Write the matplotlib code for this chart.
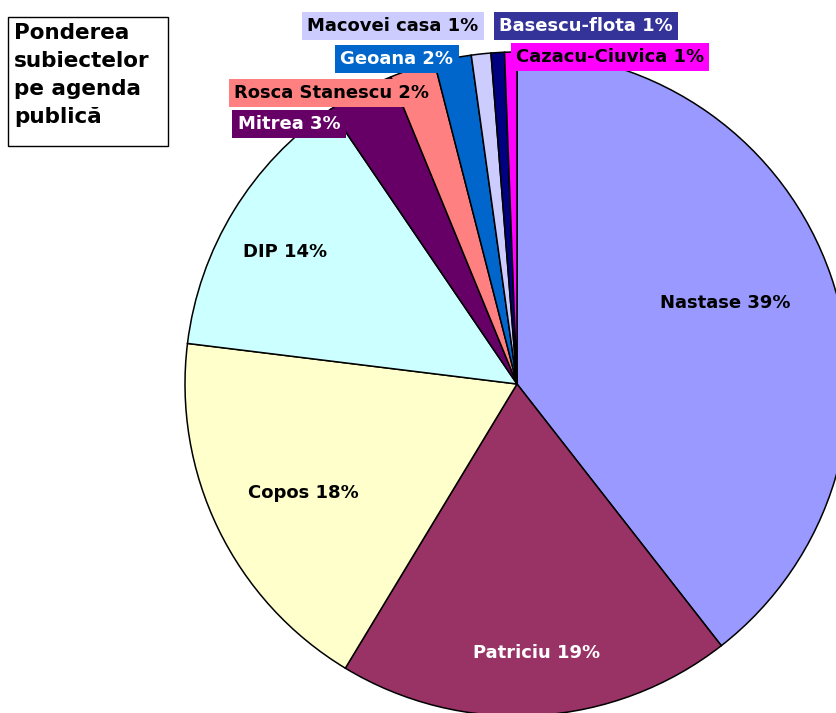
import matplotlib.pyplot as plt
from matplotlib.patches import Rectangle

# datele (ponderea subiectelor, %)
subiecte = ['Nastase', 'Patriciu', 'Copos', 'DIP', 'Mitrea', 'Rosca Stanescu',
            'Geoana', 'Macovei casa', 'Basescu-flota', 'Cazacu-Ciuvica']
valori = [39.45, 19.2, 18.3, 13.55, 3.3, 2.2, 1.8, 0.95, 0.65, 0.6]
culori = ['#9999FF', '#993366', '#FFFFCC', '#CCFFFF', '#660066', '#FF8080',
          '#0066CC', '#CCCCFF', '#000080', '#FF00FF']

# pozitia etichetelor (pixeli, sus-stanga) si stilul lor
W, H = 837, 713
pozitii = [(725, 303), (537, 653), (303, 493), (285, 252), (289, 124), (332, 93),
           (397, 59), (393, 26), (586, 26), (610, 57)]
culoare_text = ['black', 'white', 'black', 'black', 'white', 'black',
                'white', 'black', 'white', 'black']
fundal = [None, None, None, None, '#660066', '#FF8080',
          '#0066CC', '#CCCCFF', '#333399', '#FF00FF']

fig = plt.figure(figsize=(W / 100, H / 100), dpi=100)
ax = fig.add_axes([0, 0, 1, 1])

ax.pie(valori, colors=culori, startangle=90, counterclock=False,
       center=(517, H - 384), radius=332,
       wedgeprops=dict(edgecolor='black', linewidth=1.1))
ax.set_xlim(0, W)
ax.set_ylim(0, H)
ax.set_aspect('equal')
ax.axis('off')

total = sum(valori)
for nume, v, (x, y), tc, bg in zip(subiecte, valori, pozitii, culoare_text, fundal):
    eticheta = f'{nume} {round(v / total * 100)}%'
    box = None
    if bg is not None:
        box = dict(boxstyle='square,pad=0.3', fc=bg, ec='none')
    ax.text(x, H - y, eticheta, ha='center', va='center', color=tc,
            fontsize=13, fontweight='bold', family='DejaVu Sans', bbox=box,
            zorder=5)

# caseta de titlu
ax.add_patch(Rectangle((8, H - 146), 160, 129, fc='white', ec='black',
                       lw=1, zorder=4))
ax.text(14, H - 23, 'Ponderea\nsubiectelor\npe agenda\npublică', ha='left',
        va='top', fontsize=15.5, fontweight='bold', family='DejaVu Sans',
        linespacing=1.5, zorder=5)

plt.savefig('out.png', dpi=100)
